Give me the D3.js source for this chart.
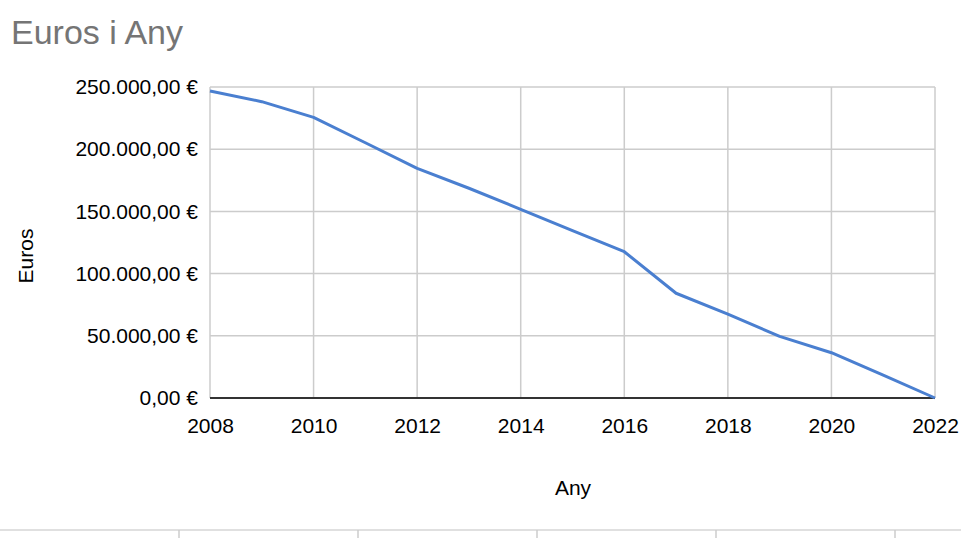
<!DOCTYPE html>
<html>
<head>
<meta charset="utf-8">
<script src="https://cdn.jsdelivr.net/npm/d3@7"></script>
<style>
  body { margin: 0; background: #fff; }
  svg { display: block; font-family: Arial, "Liberation Sans", sans-serif; }
</style>
</head>
<body>
<svg id="chart" width="961" height="538"></svg>
<script>
// data
let years = [2008, 2009, 2010, 2011, 2012, 2013, 2014, 2015, 2016, 2017, 2018, 2019, 2020, 2021, 2022];
let euros = [246800, 238200, 225600, 205200, 184600, 168600, 151700, 134500, 117600, 84200, 67500, 49500, 36400, 18300, 0];
let xTicks = [2008, 2010, 2012, 2014, 2016, 2018, 2020, 2022];
let yTicks = [0, 50000, 100000, 150000, 200000, 250000];

let margin = { top: 87, right: 26, bottom: 140, left: 210 };
let width = 961 - margin.left - margin.right;
let height = 538 - margin.top - margin.bottom;

let locale = d3.formatLocale({ decimal: ",", thousands: ".", grouping: [3], currency: ["", " €"] });
let fmt = locale.format(",.2f");

let x = d3.scaleLinear()
    .domain([2008, 2022])
    .range([0, width]);

let y = d3.scaleLinear()
    .domain([0, 250000])
    .range([height, 0]);

let svg = d3.select("#chart");

svg.append('text')
    .attr('x', 11)
    .attr('y', 44)
    .attr('fill', '#757575')
    .style('font-size', '34px')
    .text('Euros i Any');

let chart = svg.append('g')
    .attr('transform', `translate(${margin.left},${margin.top})`);

// grid
chart.append('g')
    .selectAll('line')
    .data(yTicks)
  .enter().append('line')
    .attr('x1', 0)
    .attr('x2', width)
    .attr('y1', d => y(d))
    .attr('y2', d => y(d))
    .attr('stroke', '#cccccc')
    .attr('stroke-width', 1.5);

chart.append('g')
    .selectAll('line')
    .data(xTicks)
  .enter().append('line')
    .attr('x1', d => x(d))
    .attr('x2', d => x(d))
    .attr('y1', 0)
    .attr('y2', height)
    .attr('stroke', '#cccccc')
    .attr('stroke-width', 1.5);

let yAxis = d3.axisLeft(y)
    .tickValues(yTicks)
    .tickSize(0)
    .tickPadding(12)
    .tickFormat(d => fmt(d) + ' €');

chart.append('g')
    .call(yAxis)
    .call(g => g.select('.domain').remove())
    .selectAll('text')
    .attr('fill', '#000')
    .style('font-size', '21px')
    .style('font-family', 'Arial, "Liberation Sans", sans-serif');

let xAxis = d3.axisBottom(x)
    .tickValues(xTicks)
    .tickSize(0)
    .tickPadding(20)
    .tickFormat(d3.format('d'));

chart.append('g')
    .attr('transform', `translate(0,${height})`)
    .call(xAxis)
    .call(g => g.select('.domain').remove())
    .selectAll('text')
    .attr('fill', '#000')
    .style('font-size', '21px')
    .style('font-family', 'Arial, "Liberation Sans", sans-serif');

// baseline
chart.append('line')
    .attr('x1', 0)
    .attr('x2', width)
    .attr('y1', y(0))
    .attr('y2', y(0))
    .attr('stroke', '#333')
    .attr('stroke-width', 2);

let line = d3.line()
    .x((d, i) => x(years[i]))
    .y(d => y(d));

chart.append('path')
    .datum(euros)
    .attr('fill', 'none')
    .attr('stroke', '#4a7fd0')
    .attr('stroke-width', 3)
    .attr('stroke-linejoin', 'round')
    .attr('d', line);

// axis titles
svg.append('text')
    .attr('x', 573)
    .attr('y', 495)
    .attr('text-anchor', 'middle')
    .style('font-size', '21px')
    .text('Any');

svg.append('text')
    .attr('transform', 'translate(33,256) rotate(-90)')
    .attr('text-anchor', 'middle')
    .style('font-size', '21px')
    .text('Euros');

// strip at the bottom of the frame
svg.append('line')
    .attr('x1', 0)
    .attr('x2', 961)
    .attr('y1', 530)
    .attr('y2', 530)
    .attr('stroke', '#e0e0e0')
    .attr('stroke-width', 2);

svg.append('g')
    .selectAll('line')
    .data([179, 358, 537, 716, 895])
  .enter().append('line')
    .attr('x1', d => d)
    .attr('x2', d => d)
    .attr('y1', 530)
    .attr('y2', 538)
    .attr('stroke', '#cccccc')
    .attr('stroke-width', 1.5);
</script>
</body>
</html>
